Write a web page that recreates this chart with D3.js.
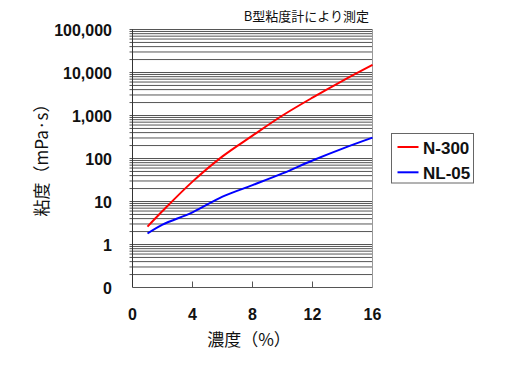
<!DOCTYPE html>
<html>
<head>
<meta charset="utf-8">
<script src="https://cdn.jsdelivr.net/npm/d3@7"></script>
<style>
  body { margin: 0; background: #fff; }
  text { fill: #111; }
</style>
</head>
<body>
<div id="chart"></div>
<script>
// concentration (%)
const conc = [1, 2, 4, 6, 8, 10, 12, 14, 16];
// viscosity (mPa·s)
const n300 = [2.6, 6, 29, 112, 340, 1000, 2600, 6400, 15000];
const nl05 = [1.8, 2.9, 5.6, 13, 24, 45, 90, 170, 305];
const seriesNames = ["N-300", "NL-05"];
const seriesColors = ["#ff0000", "#0000ff"];
const yTicks = [0.1, 1, 10, 100, 1000, 10000, 100000];
const yTickLabels = ["0", "1", "10", "100", "1,000", "10,000", "100,000"];
const xTicks = [0, 4, 8, 12, 16];

const W = 512, H = 368;
const plot = {left: 132.5, right: 372.5, top: 29.5, bottom: 287.5};

const svg = d3.select("#chart").append("svg")
  .attr("width", W).attr("height", H);

const x = d3.scaleLinear().domain([0, 16]).range([plot.left, plot.right]);
const y = d3.scaleLog().domain([0.1, 100000]).range([plot.bottom, plot.top]);

// gridlines at every 1..9 x 10^n
const grid = [];
for (let e = -1; e < 5; e++) {
  for (let k = 1; k <= 9; k++) grid.push(k * Math.pow(10, e));
}
grid.push(100000);

svg.append("g").selectAll("line")
  .data(grid.filter(v => v > 0.1))
  .enter().append("line")
    .attr("x1", plot.left - 3)
    .attr("x2", plot.right)
    .attr("y1", d => y(d))
    .attr("y2", d => y(d))
    .attr("stroke", "#555")
    .attr("stroke-width", 1);

// frame
svg.append("line")
  .attr("x1", plot.left).attr("x2", plot.left)
  .attr("y1", plot.top).attr("y2", plot.bottom)
  .attr("stroke", "#333");
svg.append("line")
  .attr("x1", plot.right).attr("x2", plot.right)
  .attr("y1", plot.top).attr("y2", plot.bottom)
  .attr("stroke", "#999");
svg.append("line")
  .attr("x1", plot.left).attr("x2", plot.right)
  .attr("y1", plot.bottom).attr("y2", plot.bottom)
  .attr("stroke", "#555");

// x ticks (inside, upward)
svg.append("g").selectAll("line")
  .data(xTicks.slice(1, -1))
  .enter().append("line")
    .attr("x1", d => x(d)).attr("x2", d => x(d))
    .attr("y1", plot.bottom).attr("y2", plot.bottom - 6)
    .attr("stroke", "#555");

// y tick labels
svg.append("g").selectAll("text")
  .data(yTicks)
  .enter().append("text")
    .attr("x", 112)
    .attr("y", d => y(d) + 6)
    .attr("text-anchor", "end")
    .style("font-family", "'Liberation Sans', Arial, sans-serif")
    .style("font-weight", "bold")
    .style("font-size", "16px")
    .text((d, i) => yTickLabels[i]);

// x tick labels
svg.append("g").selectAll("text")
  .data(xTicks)
  .enter().append("text")
    .attr("x", d => x(d))
    .attr("y", 320)
    .attr("text-anchor", "middle")
    .style("font-family", "'Liberation Sans', Arial, sans-serif")
    .style("font-weight", "bold")
    .style("font-size", "16px")
    .text(d => d);

// curves
const line = d3.line()
  .x((d, i) => x(conc[i]))
  .y(d => y(d))
  .curve(d3.curveCatmullRom.alpha(0.5));

[n300, nl05].forEach((vals, i) => {
  svg.append("path")
    .datum(vals)
    .attr("d", line)
    .attr("fill", "none")
    .attr("stroke", seriesColors[i])
    .attr("stroke-width", 2);
});

// axis titles
svg.append("text")
  .attr("x", 249).attr("y", 346)
  .attr("text-anchor", "middle")
  .style("font-family", "'Noto Sans CJK JP', sans-serif")
  .style("font-size", "17px")
  .text("濃度（%）");

svg.append("text")
  .attr("transform", "translate(48,156) rotate(-90)")
  .attr("text-anchor", "middle")
  .style("font-family", "'Noto Sans CJK JP', sans-serif")
  .style("font-size", "17px")
  .text("粘度（mPa·s）");

svg.append("text")
  .attr("x", 369).attr("y", 21)
  .attr("text-anchor", "end")
  .style("font-family", "'Noto Sans CJK JP', sans-serif")
  .style("font-size", "13px")
  .text("B型粘度計により測定");

// legend
const legend = svg.append("g");
legend.append("rect")
  .attr("x", 391.5).attr("y", 133.5)
  .attr("width", 82).attr("height", 49.5)
  .attr("fill", "#fff")
  .attr("stroke", "#666");
seriesNames.forEach((name, i) => {
  const ly = 147 + i * 25.3;
  legend.append("line")
    .attr("x1", 397.5).attr("x2", 418.5)
    .attr("y1", ly).attr("y2", ly)
    .attr("stroke", seriesColors[i])
    .attr("stroke-width", 2);
  legend.append("text")
    .attr("x", 423)
    .attr("y", ly + 6.5)
    .style("font-family", "'Liberation Sans', Arial, sans-serif")
    .style("font-weight", "bold")
    .style("font-size", "17px")
    .text(name);
});
</script>
</body>
</html>
